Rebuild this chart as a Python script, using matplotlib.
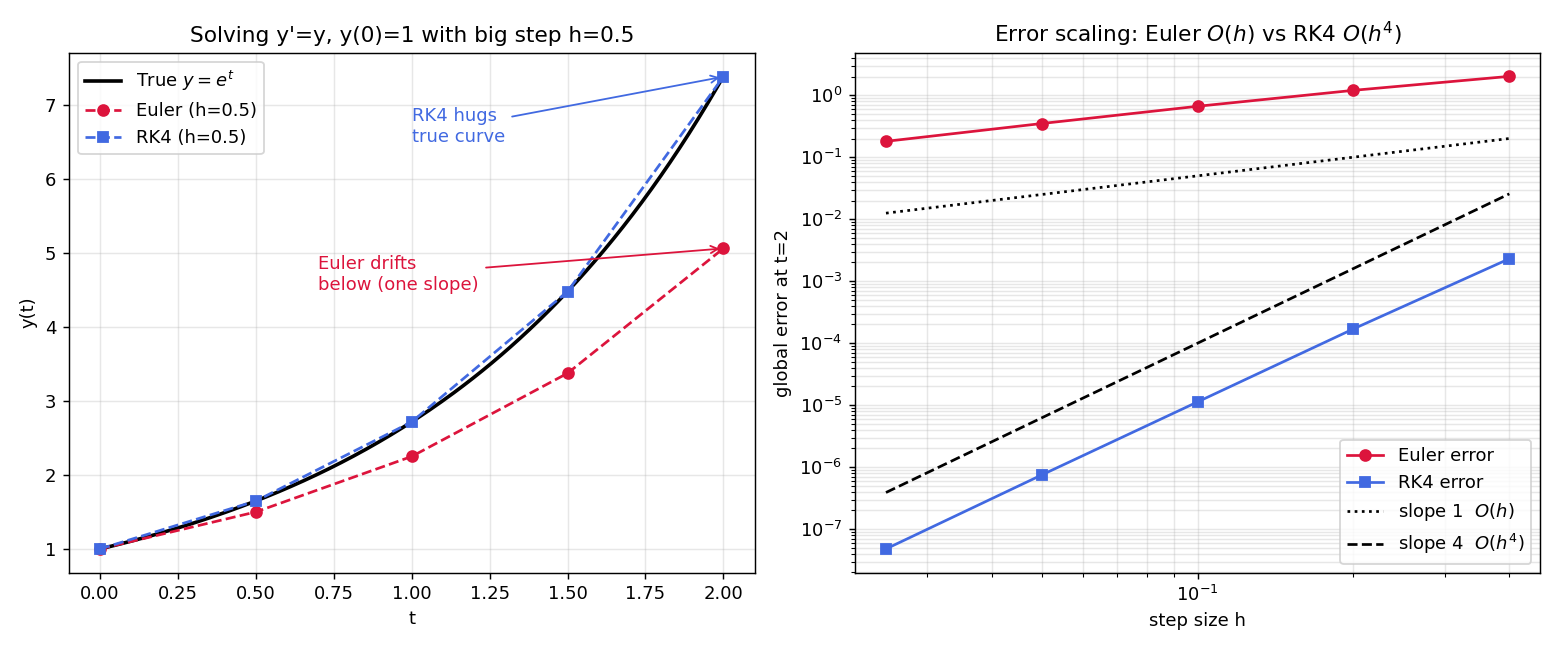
import numpy as np
import matplotlib
matplotlib.use("Agg")
import matplotlib.pyplot as plt

# Left panel data
t_steps = [0.0, 0.5, 1.0, 1.5, 2.0]
euler_y = [1.0, 1.5, 2.25, 3.375, 5.0625]
rk4_y = [1.0, 1.6484, 2.7174, 4.4794, 7.3840]

# Right panel data
h_vals = [0.025, 0.05, 0.1, 0.2, 0.4]
euler_err = [0.180, 0.349, 0.662, 1.197, 2.011]
rk4_err = [4.8e-8, 7.5e-7, 1.13e-5, 1.7e-4, 2.3e-3]
slope1_ref = [0.0125, 0.025, 0.05, 0.1, 0.2]
slope4_ref = [3.9e-7, 6.25e-6, 1.0e-4, 1.6e-3, 2.56e-2]

fig, (ax1, ax2) = plt.subplots(1, 2, figsize=(12, 5), dpi=130)

tt = np.linspace(0, 2, 200)
ax1.plot(tt, np.exp(tt), color="black", lw=2, label="True $y=e^t$")
ax1.plot(t_steps, euler_y, "--o", color="crimson", lw=1.5, ms=6, label="Euler (h=0.5)")
ax1.plot(t_steps, rk4_y, "--s", color="royalblue", lw=1.5, ms=6, label="RK4 (h=0.5)")
ax1.annotate("RK4 hugs\ntrue curve", xy=(2.0, rk4_y[-1]), xytext=(1.0, 6.5),
             color="royalblue", fontsize=10,
             arrowprops=dict(arrowstyle="->", color="royalblue", lw=1))
ax1.annotate("Euler drifts\nbelow (one slope)", xy=(2.0, euler_y[-1]), xytext=(0.7, 4.5),
             color="crimson", fontsize=10,
             arrowprops=dict(arrowstyle="->", color="crimson", lw=1))
ax1.set_title("Solving y'=y, y(0)=1 with big step h=0.5", fontsize=12)
ax1.set_xlabel("t")
ax1.set_ylabel("y(t)")
ax1.grid(True, alpha=0.3)
ax1.legend(loc="upper left")

ax2.loglog(h_vals, euler_err, "-o", color="crimson", lw=1.5, ms=6, label="Euler error")
ax2.loglog(h_vals, rk4_err, "-s", color="royalblue", lw=1.5, ms=6, label="RK4 error")
ax2.loglog(h_vals, slope1_ref, ":", color="black", lw=1.5, label="slope 1  $O(h)$")
ax2.loglog(h_vals, slope4_ref, "--", color="black", lw=1.5, label="slope 4  $O(h^4)$")
ax2.set_title("Error scaling: Euler $O(h)$ vs RK4 $O(h^4)$", fontsize=12)
ax2.set_xlabel("step size h")
ax2.set_ylabel("global error at t=2")
ax2.grid(True, which="both", alpha=0.3)
ax2.legend(loc="lower right")

fig.tight_layout()
fig.savefig("out.png", dpi=130)
